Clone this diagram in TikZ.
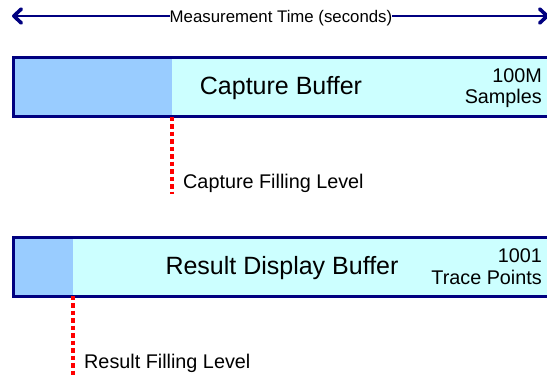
\documentclass[tikz,border=0pt]{standalone}
\usepackage{fontspec}
\setmainfont{Liberation Sans}
\usetikzlibrary{arrows.meta}
\definecolor{navyb}{HTML}{000080}
\definecolor{fillA}{HTML}{99CCFF}
\definecolor{fillB}{HTML}{CCFFFF}
\definecolor{redd}{HTML}{FF0000}
\tikzset{
  border/.style={draw=navyb, line width=3pt},
  bufnode/.style={border, fill=fillB, anchor=north west, minimum width=560pt, minimum height=59pt, inner sep=0pt, outer sep=0pt},
  levelline/.style={draw=redd, line width=3.2pt, dash pattern=on 4.5pt off 3pt},
  bigtxt/.style={font=\fontsize{25}{29}\selectfont, inner sep=0pt},
  midtxt/.style={font=\fontsize{19.8}{22}\selectfont, inner sep=0pt},
  smalltxt/.style={font=\fontsize{16.8}{19}\selectfont, inner sep=0pt, fill=white},
  timearrow/.style={draw=navyb, line width=2.6pt, {Straight Barb[length=7.5pt,width=14pt,line width=3.6pt,round]}-{Straight Barb[length=7.5pt,width=14pt,line width=3.6pt,round]}}
}
\begin{document}
\begin{tikzpicture}[x=1pt,y=-1pt]
\useasboundingbox (0,0) rectangle (547,376);
\clip (0,0) rectangle (547,376);
% time arrow
\coordinate (tl) at (12,16);
\coordinate (tr) at (549,16);
\draw[timearrow] (tl) -- (tr);
\node[smalltxt, anchor=base] (tt) at (281,22.5) {Measurement Time (seconds)};
% capture buffer
\node[bufnode] (cb) at (13,57.5) {};
\coordinate (cbsplit) at (172,116.5);
\fill[fillA] (cb.north west) rectangle (cbsplit);
\draw[border] (cb.north west) rectangle (cb.south east);
\node[bigtxt, anchor=base] (cbt) at (281,94.5) {Capture Buffer};
\node[midtxt, anchor=base east] (cbn1) at (542,82) {100M};
\node[midtxt, anchor=base east] (cbn2) at (542,103) {Samples};
\coordinate (cbend) at (172,194);
\draw[levelline] (cbsplit) -- (cbend);
\node[midtxt, anchor=base west] (cfl) at (183,188) {Capture Filling Level};
% result buffer
\node[bufnode] (rb) at (13,237.5) {};
\coordinate (rbsplit) at (73,295.5);
\fill[fillA] (rb.north west) rectangle (rbsplit);
\draw[border] (rb.north west) rectangle (rb.south east);
\node[bigtxt, anchor=base] (rbt) at (282,274.5) {Result Display Buffer};
\node[midtxt, anchor=base east] (rbn1) at (542,262) {1001};
\node[midtxt, anchor=base east] (rbn2) at (542,284) {Trace Points};
\coordinate (rbend) at (73,376);
\draw[levelline] (rbsplit) -- (rbend);
\node[midtxt, anchor=base west] (rfl) at (84,368) {Result Filling Level};
\end{tikzpicture}
\end{document}
